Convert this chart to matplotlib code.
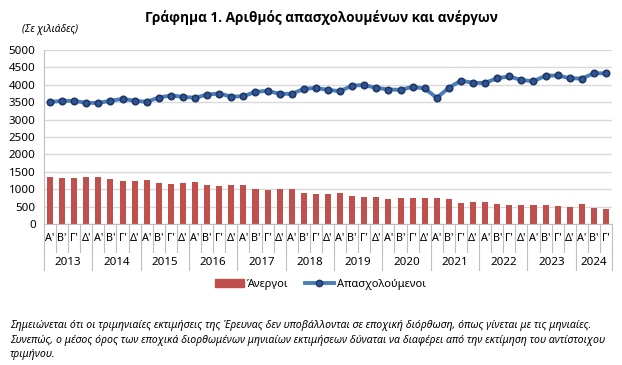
import matplotlib
matplotlib.use("Agg")
import matplotlib.pyplot as plt
import matplotlib.transforms as mtransforms
from matplotlib.lines import Line2D
from matplotlib.patches import Patch
import numpy as np

plt.rcParams['font.family'] = ['Noto Sans', 'DejaVu Sans']

years = ['2013', '2014', '2015', '2016', '2017', '2018',
         '2019', '2020', '2021', '2022', '2023', '2024']
quarters_per_year = [4, 4, 4, 4, 4, 4, 4, 4, 4, 4, 4, 3]
quarter_names = ["Α'", "Β'", "Γ'", "Δ'"]

# thousands of persons
unemployed = [1340, 1330, 1330, 1350, 1358, 1280, 1234, 1243,
              1272, 1176, 1156, 1176, 1195, 1108, 1098, 1127,
              1117, 1011, 963, 1002, 1002, 905, 867, 876,
              905, 809, 780, 780, 732, 761, 751, 746,
              742, 722, 607, 626, 645, 588, 549, 549,
              549, 540, 520, 491, 578, 462, 424]
employed = [3505, 3540, 3540, 3480, 3480, 3540, 3597, 3540,
            3510, 3635, 3692, 3655, 3626, 3720, 3750, 3660,
            3672, 3798, 3827, 3741, 3741, 3882, 3910, 3853,
            3816, 3980, 3990, 3913, 3865, 3855, 3942, 3895,
            3626, 3913, 4123, 4055, 4055, 4190, 4240, 4135,
            4105, 4260, 4270, 4190, 4180, 4330, 4330]

quarter_labels = []
for n in quarters_per_year:
    quarter_labels += quarter_names[:n]
x = np.arange(len(quarter_labels))

bar_color = '#C0504D'
line_color = '#4A7EBB'
marker_color = '#1F3864'

fig = plt.figure(figsize=(6.22, 3.65), dpi=100)
ax = fig.add_axes([0.0707, 0.3863, 0.9133, 0.4767])

ax.bar(x, unemployed, width=0.5, color=bar_color, zorder=2)
ax.plot(x, employed, color=line_color, lw=2.8, marker='o', ms=4.6,
        mfc='#2F5597', mec=marker_color, mew=1.2, zorder=3)

ax.set_xlim(-0.5, len(x) - 0.5)
ax.set_ylim(0, 5000)
ax.set_yticks(np.arange(0, 5001, 500))
ax.tick_params(axis='y', length=0, labelsize=8.3, pad=6)
ax.yaxis.grid(True, color='#D9D9D9', lw=1)
ax.set_axisbelow(True)
ax.set_xticks([])
for s in ['top', 'right']:
    ax.spines[s].set_visible(False)
ax.spines['left'].set_color('#BFBFBF')
ax.spines['bottom'].set_color('#BFBFBF')

# multi-level category axis
trans = mtransforms.blended_transform_factory(ax.transData, ax.transAxes)
ax_h = 174.0  # axes height in pixels
def ay(px):
    return -px / ax_h

for i, lab in enumerate(quarter_labels):
    ax.text(x[i], ay(14), lab, transform=trans, ha='center', va='center',
            fontsize=7.8, clip_on=False)
for b in np.arange(-0.5, len(x), 1.0):
    ax.plot([b, b], [0, ay(28)], transform=trans, color='#BFBFBF', lw=0.8,
            clip_on=False)

start = 0
bounds = [-0.5]
for yr, n in zip(years, quarters_per_year):
    ax.text(start + (n - 1) / 2, ay(38.5), yr, transform=trans, ha='center',
            va='center', fontsize=8.3, clip_on=False)
    start += n
    bounds.append(start - 0.5)
for b in bounds:
    ax.plot([b, b], [ay(28), ay(46)], transform=trans, color='#BFBFBF',
            lw=0.8, clip_on=False)

fig.text(0.516, 0.953, 'Γράφημα 1. Αριθμός απασχολουμένων και ανέργων',
         ha='center', va='center', fontsize=9.8, fontweight='bold',
         family=['Open Sans', 'DejaVu Sans'])
fig.text(0.036, 0.918, '(Σε χιλιάδες)', ha='left', va='center',
         fontsize=7.3, style='italic')

handles = [Patch(color=bar_color),
           Line2D([], [], color=line_color, lw=2.8, marker='o', ms=4.6,
                  mfc='#2F5597', mec=marker_color)]
fig.legend(handles, ['Άνεργοι', 'Απασχολούμενοι'], loc='center',
           bbox_to_anchor=(0.515, 0.22), ncol=2, frameon=False, fontsize=8,
           handlelength=2.6, columnspacing=1.5, handletextpad=0.25)

note = ('Σημειώνεται ότι οι τριμηνιαίες εκτιμήσεις της Έρευνας δεν υποβάλλονται σε εποχική διόρθωση, όπως γίνεται με τις μηνιαίες.\n'
        'Συνεπώς, ο μέσος όρος των εποχικά διορθωμένων μηνιαίων εκτιμήσεων δύναται να διαφέρει από την εκτίμηση του αντίστοιχου\n'
        'τριμήνου.')
fig.text(0.016, 0.068, note, ha='left', va='center', fontsize=7.6,
         style='italic', linespacing=1.4)

fig.savefig('out.png', dpi=100)
